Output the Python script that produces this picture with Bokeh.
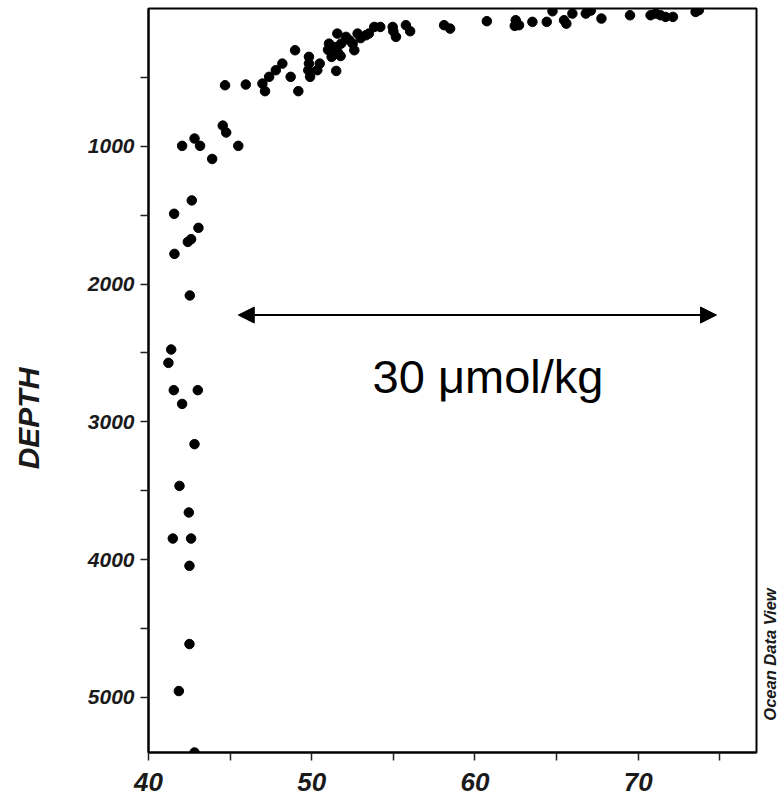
from bokeh.plotting import figure
from bokeh.layouts import row
from bokeh.models import Range1d, FixedTicker, Label, Arrow, NormalHead
from bokeh.embed import file_html
from bokeh.resources import INLINE
import math

# ---- data (value in µmol/kg, depth in m) ----
conc = [
    44.55, 44.76, 42.82, 43.16, 42.06, 45.50, 43.90,
    42.65, 41.57, 43.06, 42.61, 42.41, 41.59, 42.53, 41.39, 41.22,
    41.55, 43.02, 42.06, 42.82, 41.90, 42.47, 41.49, 42.61, 42.51,
    42.51, 41.86, 42.82,
    44.69, 45.96, 46.98, 47.14, 47.39, 47.80, 48.20, 48.71, 48.98, 49.18,
    49.83, 49.83, 49.79, 49.90, 50.49, 50.34, 51.06, 51.22, 51.57, 51.22,
    51.77, 51.50, 51.80, 51.40, 51.60, 51.00, 52.10, 52.51, 52.61, 52.81,
    53.32, 53.00, 53.50, 52.30, 53.83, 54.20, 54.96, 55.16, 55.00, 55.77,
    56.03, 58.11, 58.48, 60.73, 62.50, 62.70, 62.44, 63.52, 64.40, 64.75,
    65.46, 65.60, 65.97, 66.79, 67.10, 67.75, 69.50, 70.76, 71.07, 71.37,
    71.68, 72.13, 73.52, 73.72,
]
depth = [
    850, 900, 944, 997, 997, 997, 1092,
    1393, 1490, 1592, 1674, 1694, 1781, 2083, 2475, 2572,
    2770, 2770, 2870, 3162, 3465, 3658, 3847, 3847, 4045,
    4613, 4954, 5400,
    557, 552, 545, 600, 496, 448, 400, 496, 303, 600,
    351, 400, 448, 496, 400, 448, 255, 303, 182, 351,
    345, 453, 255, 280, 320, 300, 206, 255, 303, 182,
    194, 215, 182, 230, 134, 134, 134, 206, 165, 121,
    165, 121, 146, 92, 85, 121, 126, 97, 97, 20,
    85, 110, 37, 37, 15, 73, 49, 49, 37, 49,
    61, 61, 25, 12,
]

x_ticks = [40, 50, 60, 70]
x_minor = [45, 55, 65, 75]
y_ticks = [1000, 2000, 3000, 4000, 5000]
y_minor = [500, 1500, 2500, 3500, 4500]

x_lo, x_hi = 40, 77.25
y_top, y_bottom = 0, 5400

arrow_x = [45.5, 74.8]
arrow_y = 2225
note_text = "30 \u03bcmol/kg"
y_title = "DEPTH"
credit = "Ocean Data View"

FONT = "Liberation Sans"
H = 798
TOP, BOTTOM = 8, 46
LEFT_W, RIGHT_W = 60, 20
MAIN_W = 781 - LEFT_W - RIGHT_W


def side_panel(w):
    # frames are aligned with the main plot's frame by the row layout,
    # so map the panel's data coordinates to page pixels
    f = figure(width=w, height=H, output_backend="svg", toolbar_location=None,
               x_range=Range1d(0, w), y_range=Range1d(H - BOTTOM, TOP),
               x_axis_location=None, y_axis_location=None, min_border=0,
               min_border_top=TOP, min_border_bottom=BOTTOM)
    f.outline_line_color = None
    f.xgrid.visible = False
    f.ygrid.visible = False
    f.background_fill_color = "white"
    f.border_fill_color = "white"
    return f


left = side_panel(LEFT_W)
left.add_layout(Label(x=28, y=418, text=y_title, angle=math.pi / 2,
                      text_align="center", text_baseline="middle", text_font=FONT,
                      text_font_style="bold italic", text_font_size="30px",
                      text_color="#1a1a1a"))

right = side_panel(RIGHT_W)
right.add_layout(Label(x=8, y=654, text=credit, angle=math.pi / 2,
                       text_align="center", text_baseline="middle", text_font=FONT,
                       text_font_style="bold italic", text_font_size="16.5px",
                       text_color="#1a1a1a"))

p = figure(width=MAIN_W, height=H, output_backend="svg", toolbar_location=None,
           x_range=Range1d(x_lo, x_hi), y_range=Range1d(y_bottom, y_top),
           min_border_left=148 - LEFT_W, min_border_right=5, min_border_top=TOP,
           min_border_bottom=BOTTOM)
p.background_fill_color = "white"
p.border_fill_color = "white"
p.outline_line_color = "black"
p.outline_line_width = 2
p.xgrid.visible = False
p.ygrid.visible = False

for ax, tk, mn in ((p.xaxis[0], x_ticks, x_minor), (p.yaxis[0], y_ticks, y_minor)):
    ax.ticker = FixedTicker(ticks=tk, minor_ticks=mn)
    ax.axis_line_color = "black"
    ax.axis_line_width = 2
    ax.major_tick_line_color = "#222222"
    ax.minor_tick_line_color = "#222222"
    ax.major_tick_line_width = 1.5
    ax.minor_tick_line_width = 1.5
    ax.major_tick_out = 8
    ax.major_tick_in = 0
    ax.minor_tick_out = 8
    ax.minor_tick_in = 0
    ax.major_label_text_font = FONT
    ax.major_label_text_font_style = "bold italic"
    ax.major_label_text_color = "#1a1a1a"

p.xaxis.major_label_text_font_size = "26px"
p.yaxis.major_label_text_font_size = "21px"
p.xaxis.major_label_standoff = 12
p.yaxis.major_label_standoff = 6

p.scatter(conc, depth, size=9.5, color="black", marker="circle")

p.add_layout(Arrow(start=NormalHead(size=16, fill_color="black", line_color="black"),
                   end=NormalHead(size=16, fill_color="black", line_color="black"),
                   x_start=arrow_x[0], y_start=arrow_y, x_end=arrow_x[1], y_end=arrow_y,
                   line_width=2, line_color="black"))

p.add_layout(Label(x=60.8, y=2670, text=note_text, text_align="center",
                   text_baseline="middle", text_font=FONT, text_font_size="47px",
                   text_color="black"))

layout = row(left, p, right, spacing=0)

open("out.html", "w").write(file_html(layout, INLINE))
